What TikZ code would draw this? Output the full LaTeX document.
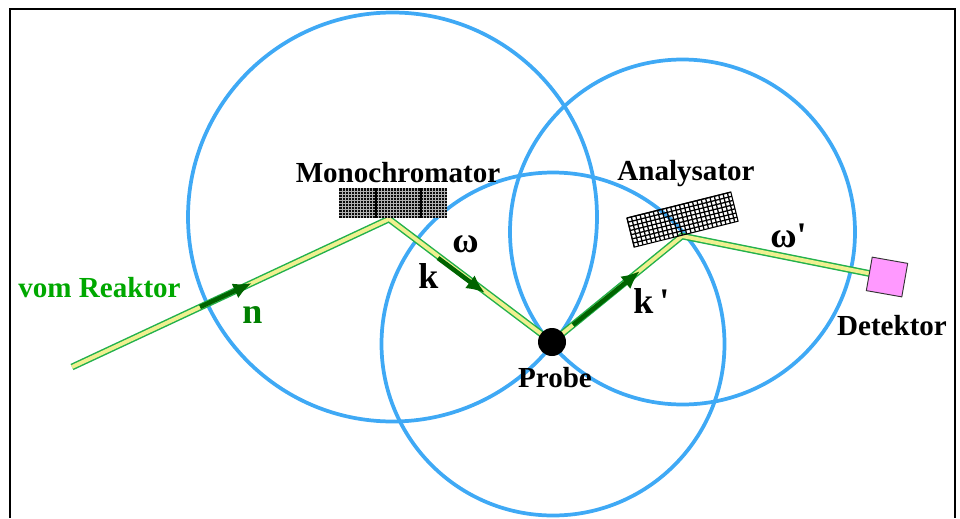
\documentclass[tikz,border=0pt]{standalone}
\usepackage{fontspec}
\setmainfont{Liberation Serif}
\usetikzlibrary{arrows.meta,backgrounds}
\definecolor{kreisblau}{HTML}{3FA9F5}
\definecolor{strahlgruen}{HTML}{22B14C}
\definecolor{strahlgelb}{HTML}{F0F090}
\definecolor{pfeilgruen}{HTML}{006400}
\definecolor{textgruen}{HTML}{00A800}
\definecolor{detektorrosa}{HTML}{FF99FF}
\tikzset{
    kreis/.style={draw=kreisblau, line width=2.8pt},
    strahl/.style={draw=strahlgruen, line width=1.1pt, double=strahlgelb, double distance=2.9pt, line join=miter},
    pfeil/.style={draw=pfeilgruen, fill=pfeilgruen, line width=3.4pt, -{Latex[length=14pt,width=12pt]}},
    beschriftung/.style={inner sep=0pt, anchor=base, font=\fontsize{21.8}{24}\selectfont\bfseries},
    gross/.style={inner sep=0pt, anchor=base west, font=\fontsize{27}{30}\selectfont\bfseries}
}
\begin{document}
\begin{tikzpicture}[x=0.75pt,y=-0.75pt]
    \useasboundingbox (0,0) rectangle (960,518);
    % Rahmen
    \draw[line width=1.9pt] (10,518) -- (10,9) -- (955,9) -- (955,518);

    % Probe und Detektor
    \coordinate (reaktor) at (72,367);
    \coordinate (mono) at (389,219);
    \coordinate (ana) at (682,236);
    \node[circle, fill=black, minimum size=21pt, inner sep=0pt] (probe) at (552,342) {};
    \node[draw=black!80, fill=detektorrosa, line width=0.7pt, minimum width=27pt, minimum height=25.5pt, inner sep=0pt, rotate=-10] (det) at (887,277) {};

    % drei Kreise, darueber der Strahlengang
    \begin{scope}[on background layer]
        \draw[kreis] (392.5,217) circle (204.5);
        \draw[kreis] (682.5,232) circle (172.5);
        \draw[kreis] (553,344) circle (171.5);
        \draw[strahl] (reaktor) -- (mono) -- (probe.center) -- (ana) -- (det.center);
    \end{scope}

    % Monochromator
    \fill[black!95] (339,188) rectangle (447,218);
    \foreach \x in {342,345,...,445} {
        \draw[white!70!black, line width=0.1pt] (\x,188) -- (\x,218);
    }
    \foreach \y in {191,194,...,216} {
        \draw[white!70!black, line width=0.1pt] (339,\y) -- (447,\y);
    }
    \draw[black, line width=0.8pt] (376,188) -- (376,218);
    \draw[black, line width=0.8pt] (421,188) -- (421,218);

    % Analysator
    \begin{scope}[shift={(627,218)}, rotate=14]
        \foreach \x in {0,4.5,...,107} {
            \draw[black, line width=0.95pt] (\x,0) -- (\x,30);
        }
        \foreach \y in {0,4.3,...,30} {
            \draw[black, line width=0.95pt] (0,\y) -- (107,\y);
        }
        \draw[black, line width=0.8pt] (0,0) rectangle (107,30);
    \end{scope}

    % Pfeile
    \coordinate (nfuss) at (200,307);
    \coordinate (nspitze) at (252,283);
    \coordinate (kfuss) at (438,258);
    \coordinate (kspitze) at (485,293);
    \coordinate (kpfuss) at (573,325);
    \coordinate (kpspitze) at (640,271);
    \draw[pfeil] (nfuss) -- (nspitze);
    \draw[pfeil] (kfuss) -- (kspitze);
    \draw[pfeil] (kpfuss) -- (kpspitze);

    % Beschriftung
    \node[beschriftung] (monotext) at (398,182) {Monochromator};
    \node[beschriftung] (anatext) at (686,180) {Analysator};
    \node[beschriftung] (dettext) at (892,335) {Detektor};
    \node[beschriftung] (probetext) at (555,387) {Probe};
    \node[beschriftung, text=textgruen] (reaktortext) at (99.5,297) {vom Reaktor};
    \node[gross, text=green!50!black] (ntext) at (242,323) {n};
    \node[gross] (ktext) at (418,288) {k};
    \node[gross] (omtext) at (452,252) {ω};
    \node[gross] (kptext) at (633,313) {k\,\textquotesingle};
    \node[gross] (omptext) at (770,247) {ω\textquotesingle};
\end{tikzpicture}
\end{document}
